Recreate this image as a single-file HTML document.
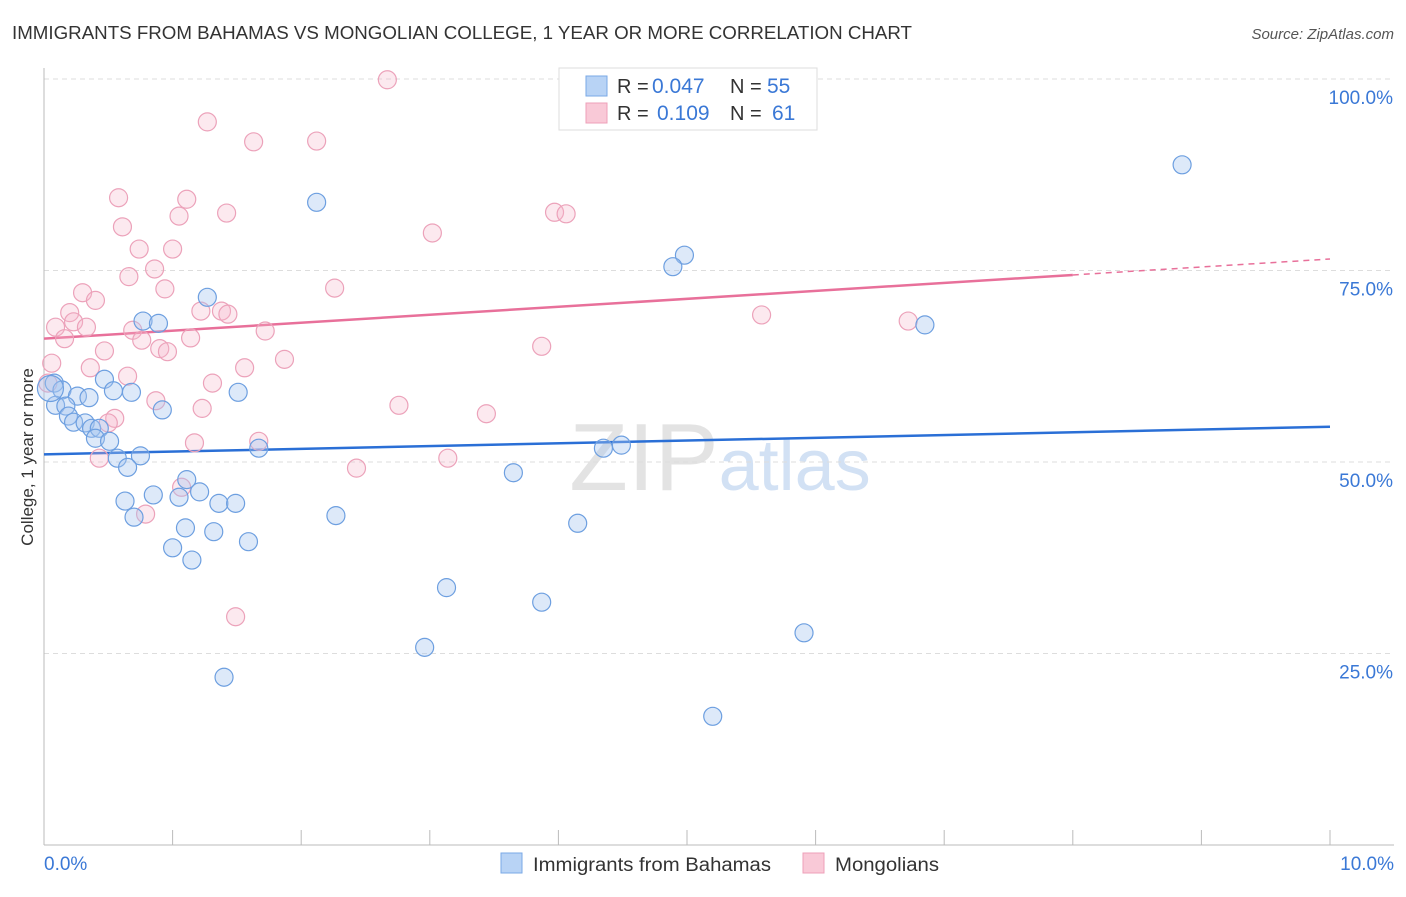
<!DOCTYPE html>
<html><head><meta charset="utf-8"><style>
body{margin:0;background:#fff;font-family:"Liberation Sans",sans-serif;}
svg text{font-family:"Liberation Sans",sans-serif;}
</style></head><body>
<svg id="chart" width="1406" height="892" viewBox="0 0 1406 892" xmlns="http://www.w3.org/2000/svg">
<text x="12" y="39" font-size="18" fill="#333" textLength="900" lengthAdjust="spacingAndGlyphs">IMMIGRANTS FROM BAHAMAS VS MONGOLIAN COLLEGE, 1 YEAR OR MORE CORRELATION CHART</text>
<text x="1394" y="39" font-size="15" fill="#555" text-anchor="end" font-style="italic">Source: ZipAtlas.com</text>
<text x="720" y="490" font-size="96" text-anchor="middle" fill="#ddd" font-family="Liberation Serif" opacity="0.8">ZIP<tspan fill="#c8daf2" font-family="Liberation Sans" font-size="72">atlas</tspan></text>
<g id="grid"></g><g id="axes"></g><g id="lines"></g><g id="pts"></g>
<text transform="translate(33,457) rotate(-90)" font-size="17" fill="#333" text-anchor="middle">College, 1 year or more</text>
<g>
<rect x="559" y="68" width="258" height="62" fill="#fff" stroke="#ddd"/>
<rect x="586" y="76" width="21" height="20" fill="#b8d3f5" stroke="#7aa8e6"/>
<rect x="586" y="103" width="21" height="20" fill="#f9c9d7" stroke="#eea0b8"/>
<text x="617" y="93" font-size="20" fill="#333">R =</text>
<text x="652" y="93" font-size="21" fill="#3a78d6">0.047</text>
<text x="730" y="93" font-size="20" fill="#333">N =</text>
<text x="767" y="93" font-size="21" fill="#3a78d6">55</text>
<text x="617" y="120" font-size="20" fill="#333">R =</text>
<text x="657" y="120" font-size="21" fill="#3a78d6">0.109</text>
<text x="730" y="120" font-size="20" fill="#333">N =</text>
<text x="772" y="120" font-size="21" fill="#3a78d6">61</text>
</g>
<g>
<rect x="501" y="853" width="21" height="20" fill="#b8d3f5" stroke="#7aa8e6"/>
<text x="533" y="871" font-size="19" fill="#333" textLength="238" lengthAdjust="spacingAndGlyphs">Immigrants from Bahamas</text>
<rect x="803" y="853" width="21" height="20" fill="#f9c9d7" stroke="#eea0b8"/>
<text x="835" y="871" font-size="19" fill="#333" textLength="104" lengthAdjust="spacingAndGlyphs">Mongolians</text>
</g>
</svg>
<script>
const blueX=[8.85,2.12,4.98,4.89,1.27,6.85,0.77,0.89,0.47,0.08,0.14,0.54,0.68,1.51,0.26,0.35,0.09,0.17,0.92,0.19,0.23,0.32,0.37,0.43,0.40,0.51,1.67,4.35,4.49,0.57,0.75,0.65,3.65,1.11,0.63,0.85,1.21,1.05,1.36,1.49,2.27,0.70,4.15,1.10,1.32,1.59,1.00,1.15,3.13,3.87,5.91,2.96,1.40,5.20,0.05];
const blueY=[88.8,83.9,77.0,75.5,71.5,67.9,68.4,68.1,60.8,60.3,59.4,59.3,59.1,59.1,58.6,58.4,57.4,57.3,56.8,56.0,55.2,55.1,54.4,54.4,53.1,52.7,51.8,51.8,52.2,50.5,50.8,49.3,48.6,47.7,44.9,45.7,46.1,45.4,44.6,44.6,43.0,42.8,42.0,41.4,40.9,39.6,38.8,37.2,33.6,31.7,27.7,25.8,21.9,16.8,59.6];
const pinkX=[2.67,1.27,1.63,2.12,0.58,1.11,1.42,1.05,3.97,4.06,0.61,3.02,0.74,1.00,0.86,0.66,0.94,2.26,0.30,0.40,0.20,1.22,1.38,1.43,5.58,6.72,0.23,0.09,0.33,0.69,1.72,0.16,0.76,1.14,3.87,0.47,0.90,0.96,1.87,0.06,0.36,1.56,0.65,1.31,0.03,0.87,2.76,1.23,3.44,0.55,0.50,1.67,1.17,3.14,0.43,2.43,1.07,0.79,1.49];
const pinkY=[99.9,94.4,91.8,91.9,84.5,84.3,82.5,82.1,82.6,82.4,80.7,79.9,77.8,77.8,75.2,74.2,72.6,72.7,72.1,71.1,69.5,69.7,69.7,69.3,69.2,68.4,68.3,67.6,67.6,67.2,67.1,66.1,65.9,66.2,65.1,64.5,64.8,64.4,63.4,62.9,62.3,62.3,61.2,60.3,60.3,58.0,57.4,57.0,56.3,55.7,55.1,52.7,52.5,50.5,50.5,49.2,46.7,43.2,29.8];
const blueTrend=[51.0,54.6];
const pinkTrend=[66.1,76.5];
const yTicks=[25,50,75,100];
const xTicks=[0,1,2,3,4,5,6,7,8,9,10];
const NS="http://www.w3.org/2000/svg";
const X=v=>44+v*128.6, Y=v=>845-v*7.66;
function mk(p,t,a){const e=document.createElementNS(NS,t);for(const k in a)e.setAttribute(k,a[k]);document.getElementById(p).appendChild(e);return e;}
yTicks.forEach(t=>{
 const g=mk('grid','line',{x1:44,x2:1394,y1:Y(t),y2:Y(t),stroke:'#ddd','stroke-dasharray':'5,4'});
 
 
 const l=mk('axes','text',{x:1393,y:Y(t)+25,'font-size':19,fill:'#3a78d6','text-anchor':'end'});
 l.textContent=t.toFixed(1)+'%';
 
 
});
const ax=mk('axes','line',{x1:44,x2:1394,y1:845,y2:845,stroke:'#bbb'});


const ay=mk('axes','line',{x1:44,x2:44,y1:68,y2:845,stroke:'#bbb'});


xTicks.forEach(t=>{
 const e=mk('axes','line',{x1:X(t),x2:X(t),y1:830,y2:845,stroke:'#bbb'});
 
 
});
[[0,'0.0%','start',44],[10,'10.0%','end',1394]].forEach(d=>{
 const l=mk('axes','text',{x:d[3],y:870,'font-size':19,fill:'#3a78d6','text-anchor':d[2]});
 l.textContent=d[1];
 
 
});
function pts(xs,ys,fill,stroke,name){xs.forEach((x,i)=>{
 const big=(i===xs.length-1&&name==='blue-point');
 const c=mk('pts','circle',{cx:X(x),cy:Y(ys[i]),r:big?13:9,fill:fill,stroke:stroke,'stroke-width':1.2});
 
 
});}
pts(pinkX,pinkY,'rgba(246,182,202,0.3)','#eca2ba','pink-point');
pts(blueX,blueY,'rgba(165,198,240,0.38)','#6d9fe0','blue-point');
const bl=mk('lines','line',{x1:X(0),x2:X(10),y1:Y(blueTrend[0]),y2:Y(blueTrend[1]),stroke:'#2a6fd6','stroke-width':2.5});


const py=x=>pinkTrend[0]+(pinkTrend[1]-pinkTrend[0])*x/10;
const pl=mk('lines','line',{x1:X(0),x2:X(8),y1:Y(py(0)),y2:Y(py(8)),stroke:'#e8709a','stroke-width':2.5});


const pd=mk('lines','line',{x1:X(8),x2:X(10),y1:Y(py(8)),y2:Y(py(10)),stroke:'#e8709a','stroke-width':1.5,'stroke-dasharray':'6,5'});


</script>
</body></html>
